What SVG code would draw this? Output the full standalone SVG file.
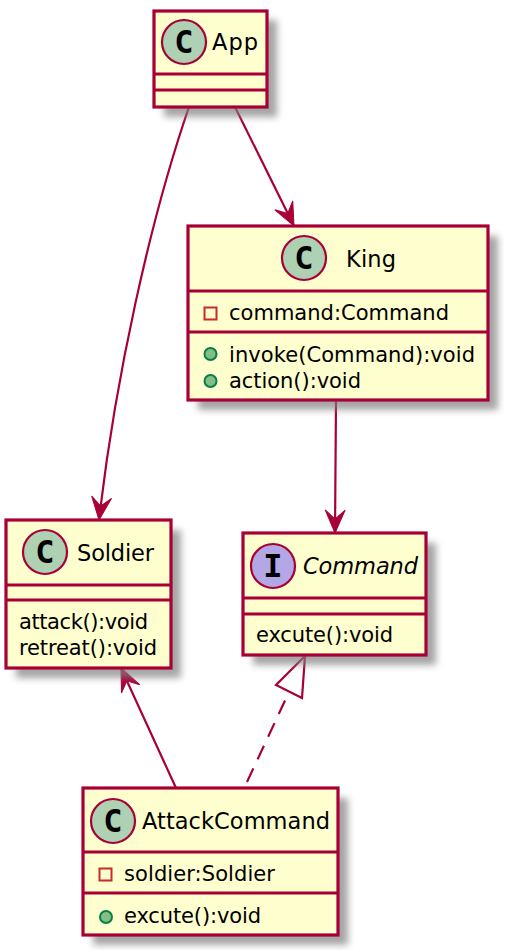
<svg xmlns="http://www.w3.org/2000/svg" width="506" height="950" viewBox="0 0 506 950">
<style>
.box{fill:#FEFECE;stroke:#A80036;stroke-width:3.200}
.sep{stroke:#A80036;stroke-width:3;fill:none}
.shadow{fill:#808080;opacity:.7;filter:url(#blur)}
.t{font-family:"DejaVu Sans",sans-serif;font-size:22.500px;fill:#000}
.m{font-family:"DejaVu Sans",sans-serif;font-size:21px;fill:#000}
.i{font-style:italic}
.spot{stroke:#A80036;stroke-width:2.200}
.g{font-family:"DejaVu Sans Mono",monospace;font-weight:bold;font-size:32px;text-anchor:middle;fill:#000}
.c{fill:none;stroke:#A80036;stroke-width:2.200}
.priv{fill:none;stroke:#C82930;stroke-width:2}
.pub{fill:#84BE84;stroke:#038048;stroke-width:2}
</style>
<defs>
<filter id="blur" x="-20%" y="-20%" width="140%" height="140%"><feGaussianBlur stdDeviation="3.500"/></filter>
<marker id="arrow" markerUnits="userSpaceOnUse" markerWidth="28" markerHeight="28" refX="24" refY="13" orient="auto"><path d="M24 13L1 3L10 13L1 23Z" fill="#A80036" stroke="#A80036" stroke-width="1"/></marker>
</defs>
<g id="connectors">
<path class="c" d="M189 107C150 220 115 380 99 520" marker-end="url(#arrow)"/>
<path class="c" d="M235 107L294 226" marker-end="url(#arrow)"/>
<path class="c" d="M336 400L335 533" marker-end="url(#arrow)"/>
<path class="c" d="M176 788L121 668" marker-end="url(#arrow)"/>
<path class="c" d="M247 782L289 692" stroke-dasharray="15 10"/>
<path class="c" d="M305 656L276 685L302 698Z"/>
</g>
<g id="App">
<rect class="shadow" x="164" y="20" width="113" height="97"/>
<rect class="box" x="154" y="11" width="113" height="96"/>
<path class="sep" d="M154 74H267M154 90H267"/>
<circle class="spot" cx="184" cy="42" r="22" fill="#ADD1B2"/>
<text class="g" x="184" y="53">C</text>
<text class="t" x="212" y="50" textLength="46">App</text>
</g>
<g id="King">
<rect class="shadow" x="198" y="236" width="300" height="174"/>
<rect class="box" x="188" y="226" width="300" height="174"/>
<path class="sep" d="M188 291H488M188 332H488"/>
<circle class="spot" cx="304" cy="258" r="22" fill="#ADD1B2"/>
<text class="g" x="304" y="269">C</text>
<text class="t" x="346" y="267" textLength="50">King</text>
<rect class="priv" x="204.500" y="307.500" width="12" height="12"/>
<text class="m" x="229" y="320" textLength="220">command:Command</text>
<circle class="pub" cx="210.500" cy="354" r="6"/>
<text class="m" x="229" y="362" textLength="246">invoke(Command):void</text>
<circle class="pub" cx="210.500" cy="381" r="6"/>
<text class="m" x="229" y="388" textLength="132">action():void</text>
</g>
<g id="Soldier">
<rect class="shadow" x="16" y="530" width="165" height="148"/>
<rect class="box" x="6" y="520" width="165" height="148"/>
<path class="sep" d="M6 585H171M6 600H171"/>
<circle class="spot" cx="45" cy="552" r="22" fill="#ADD1B2"/>
<text class="g" x="45" y="563">C</text>
<text class="t" x="77" y="561" textLength="77">Soldier</text>
<text class="m" x="19" y="629" textLength="129">attack():void</text>
<text class="m" x="19" y="655" textLength="138">retreat():void</text>
</g>
<g id="Command">
<rect class="shadow" x="253" y="543" width="183" height="122"/>
<rect class="box" x="243" y="533" width="183" height="122"/>
<path class="sep" d="M243 598H426M243 614H426"/>
<circle class="spot" cx="273" cy="566" r="22" fill="#B4A7E5"/>
<text class="g" x="273" y="577">I</text>
<text class="t i" x="303" y="574" textLength="115">Command</text>
<text class="m" x="256" y="642" textLength="137">excute():void</text>
</g>
<g id="AttackCommand">
<rect class="shadow" x="93" y="798" width="255" height="147"/>
<rect class="box" x="83" y="788" width="255" height="147"/>
<path class="sep" d="M83 852H338M83 893H338"/>
<circle class="spot" cx="113" cy="821" r="22" fill="#ADD1B2"/>
<text class="g" x="113" y="832">C</text>
<text class="t" x="142" y="829" textLength="188">AttackCommand</text>
<rect class="priv" x="99.500" y="868.500" width="12" height="12"/>
<text class="m" x="124" y="881" textLength="151">soldier:Soldier</text>
<circle class="pub" cx="106" cy="917" r="6"/>
<text class="m" x="124" y="923" textLength="137">excute():void</text>
</g>
</svg>
